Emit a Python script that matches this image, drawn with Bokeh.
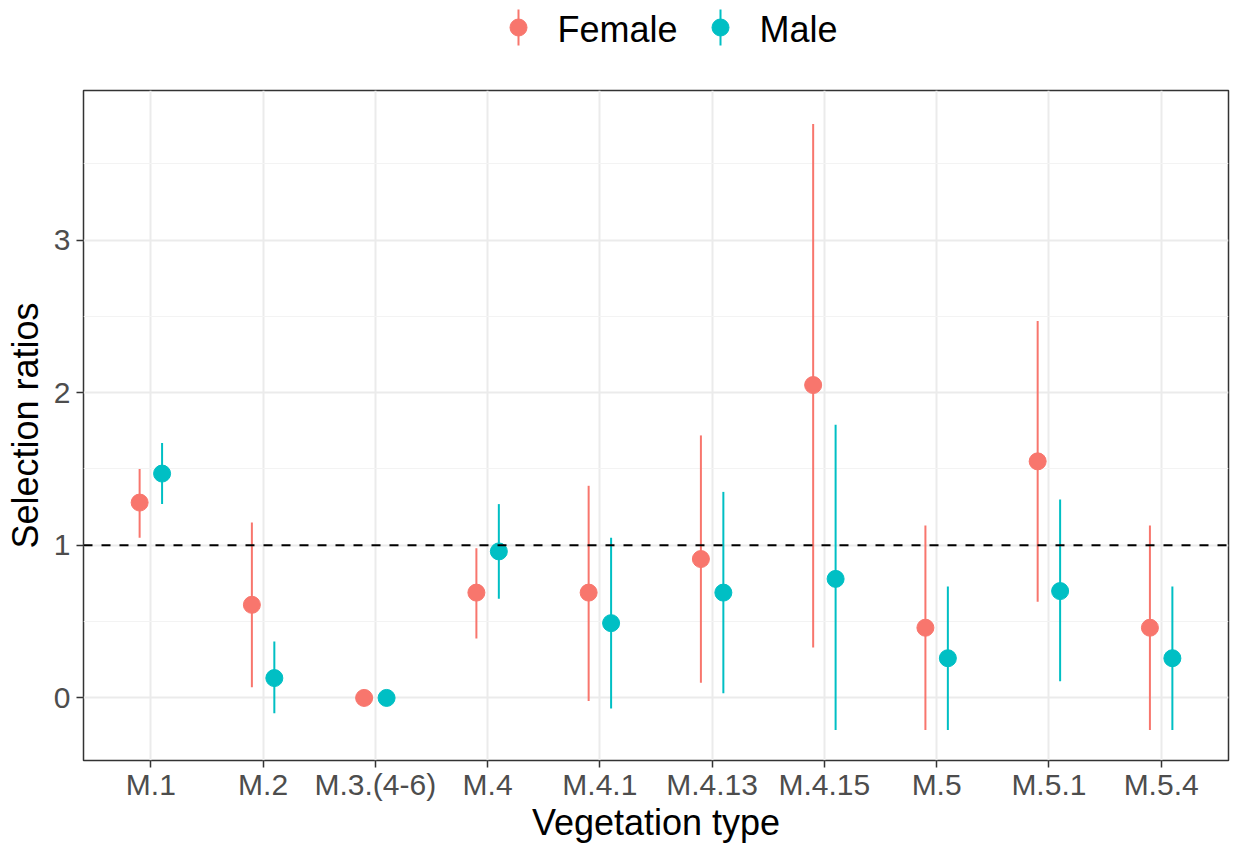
import math
from bokeh.plotting import figure
from bokeh.models import Range1d, FixedTicker, Span, ColumnDataSource
from bokeh.layouts import column
from bokeh.embed import file_html
from bokeh.resources import INLINE
from bokeh.core.properties import value

NAN = float("nan")

categories = ["M.1", "M.2", "M.3.(4-6)", "M.4", "M.4.1", "M.4.13", "M.4.15", "M.5", "M.5.1", "M.5.4"]
groups = ["Female", "Male"]
colors = ["#F8766D", "#00BFC4"]

female_est = [1.28, 0.61, 0.00, 0.69, 0.69, 0.91, 2.05, 0.46, 1.55, 0.46]
female_low = [1.05, 0.07, NAN, 0.39, -0.02, 0.10, 0.33, -0.21, 0.63, -0.21]
female_high = [1.50, 1.15, NAN, 0.98, 1.39, 1.72, 3.76, 1.13, 2.47, 1.13]

male_est = [1.47, 0.13, 0.00, 0.96, 0.49, 0.69, 0.78, 0.26, 0.70, 0.26]
male_low = [1.27, -0.10, NAN, 0.65, -0.07, 0.03, -0.21, -0.21, 0.11, -0.21]
male_high = [1.67, 0.37, NAN, 1.27, 1.05, 1.35, 1.79, 0.73, 1.30, 0.73]

y_ticks = [0, 1, 2, 3]
reference_line = 1.0
dodge = 0.1

FONT = "Liberation Sans"

# ---- legend strip (frame is aligned with the main plot frame: x 83..1228) ----
leg = figure(width=1235, height=75, x_range=Range1d(83, 1228), y_range=Range1d(75, 0),
             output_backend="svg", toolbar_location=None, min_border=0)
leg.axis.visible = False
leg.grid.visible = False
leg.outline_line_color = None
leg_x = [518, 720]
for gx, g, c in zip(leg_x, groups, colors):
    leg.segment(x0=[gx], y0=[9], x1=[gx], y1=[45], line_color=c, line_width=2)
    leg.scatter(x=[gx], y=[27], size=17, fill_color=c, line_color=c)
    leg.text(x=[gx + 39], y=[29], text=[g], text_font=value(FONT), text_font_size="36px",
             text_baseline="middle", text_align="left", text_color="black")

# ---- main plot ----
p = figure(width=1235, height=771, x_range=Range1d(0.4, len(categories) + 0.6),
           y_range=Range1d(-0.41, 3.98), output_backend="svg", toolbar_location=None,
           min_border_left=83, min_border_right=7, min_border_top=15, min_border_bottom=86)

xs = list(range(1, len(categories) + 1))
series = [(female_est, female_low, female_high, -dodge), (male_est, male_low, male_high, dodge)]
for (est, lo, hi, off), c in zip(series, colors):
    src = ColumnDataSource(dict(x=[v + off for v in xs], est=est, lo=lo, hi=hi))
    p.segment(x0="x", y0="lo", x1="x", y1="hi", source=src, line_color=c, line_width=2)
    p.scatter(x="x", y="est", source=src, size=17, fill_color=c, line_color=c)

p.add_layout(Span(location=reference_line, dimension="width", line_color="black",
                  line_dash="9 9", line_width=2))

p.xaxis.ticker = FixedTicker(ticks=xs)
p.xaxis.major_label_overrides = {x: c for x, c in zip(xs, categories)}
p.yaxis.ticker = FixedTicker(ticks=y_ticks, minor_ticks=[t + 0.5 for t in [-1] + y_ticks])

for ax in (p.xaxis, p.yaxis):
    ax.axis_line_color = None
    ax.major_tick_line_color = "#333333"
    ax.major_tick_line_width = 1.5
    ax.major_tick_out = 7
    ax.major_tick_in = 0
    ax.minor_tick_line_color = None
    ax.major_label_text_font = FONT
    ax.major_label_text_font_size = "30px"
    ax.major_label_text_color = "#4D4D4D"
    ax.axis_label_text_font = FONT
    ax.axis_label_text_font_size = "36px"
    ax.axis_label_text_font_style = "normal"
    ax.axis_label_text_color = "black"

p.xaxis.axis_label = "Vegetation type"
p.yaxis.axis_label = "Selection ratios"
p.xaxis.major_label_standoff = 0
p.xaxis.axis_label_standoff = -2
p.yaxis.major_label_standoff = 6
p.yaxis.axis_label_standoff = 5

p.xgrid.grid_line_color = "#EBEBEB"
p.xgrid.grid_line_width = 2
p.ygrid.grid_line_color = "#EBEBEB"
p.ygrid.grid_line_width = 2
p.ygrid.minor_grid_line_color = "#F3F3F3"
p.ygrid.minor_grid_line_width = 1.2

p.outline_line_color = "#333333"
p.outline_line_width = 1.5

layout = column(leg, p, spacing=0)
open("out.html", "w").write(file_html(layout, INLINE))
